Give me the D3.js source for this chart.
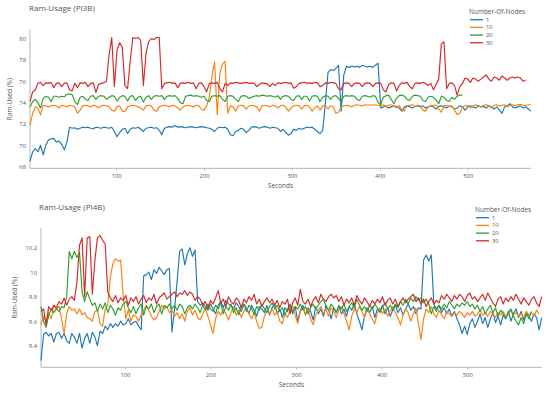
<!DOCTYPE html>
<html>
<head>
<meta charset="utf-8">
<script src="https://cdn.jsdelivr.net/npm/d3@7"></script>
<style>
  body { margin: 0; background: #fff; }
  svg { font-family: "Open Sans", verdana, arial, sans-serif; }
</style>
</head>
<body>
<div id="chart"></div>
<script>
// sampled every 3 seconds, first sample at 2 s
const startSec = 2;
const stepSec = 3;

const nodeCounts = ['1', '10', '20', '30'];
const xTicks = [100, 200, 300, 400, 500];

// PI3B
const pi3bYTicks = [68, 70, 72, 74, 76, 78, 80];
const pi3b_1 = [68.5,69.4,69.7,69.4,70.0,69.1,70.0,70.5,70.6,70.65,70.3,70.4,70.1,69.6,70.3,71.7,71.6,71.65,71.5,71.6,71.7,71.65,71.7,71.6,71.55,71.7,71.65,71.6,71.7,71.65,71.6,71.7,71.3,70.8,71.2,71.5,71.6,71.1,71.5,71.65,71.6,71.7,71.5,71.3,71.6,71.65,71.7,71.6,71.65,71.4,71.0,71.6,71.7,71.75,71.7,71.85,71.7,71.75,71.7,71.65,71.7,71.75,71.7,71.65,71.7,71.75,71.7,71.65,71.6,71.5,71.3,71.6,71.7,71.65,71.7,71.5,71.0,70.9,71.3,71.4,71.6,71.5,71.2,71.4,71.7,71.75,71.7,71.6,71.7,71.75,71.7,71.6,71.7,71.65,71.6,71.3,71.5,71.2,70.95,71.1,71.5,71.4,71.6,71.5,71.6,71.7,71.65,71.7,71.5,71.3,71.1,71.4,73.9,76.8,77.1,77.0,77.2,77.5,73.2,76.6,77.4,77.3,77.4,77.35,77.4,77.3,77.5,77.4,77.35,77.4,77.3,77.5,77.7,73.5,73.6,73.7,73.5,73.6,73.7,73.6,73.5,73.2,73.6,73.7,73.6,73.5,73.65,73.7,73.6,73.7,73.5,73.6,73.7,73.6,73.4,73.65,73.7,73.6,73.5,73.7,73.6,73.4,73.5,73.7,73.6,73.3,73.6,73.7,73.6,73.5,73.7,73.6,73.65,73.5,73.7,73.6,73.4,73.6,73.3,73.0,73.6,73.7,73.9,73.6,73.5,73.6,73.7,73.5,73.6,73.4,73.2];
const pi3b_10 = [71.9,73.0,73.6,73.5,72.85,73.75,73.7,73.6,73.7,73.75,73.7,73.5,73.75,73.7,73.6,73.75,73.7,73.6,73.0,73.3,73.7,73.75,73.7,73.6,73.75,73.7,73.5,73.7,73.75,73.7,73.6,73.3,73.2,73.6,73.7,73.2,73.15,73.6,73.7,73.75,73.7,73.6,73.5,73.3,73.7,73.75,73.7,73.3,73.2,73.6,73.7,73.75,73.7,73.6,73.75,73.7,73.5,73.3,73.6,73.7,73.75,73.7,73.6,73.75,73.7,73.4,73.3,73.7,74.5,76.5,77.85,72.9,76.8,77.6,77.85,73.0,73.7,73.6,73.2,73.7,73.75,73.7,73.4,73.7,73.75,73.7,73.6,73.2,73.7,73.75,73.7,73.6,73.75,73.7,73.5,73.7,73.75,73.6,73.2,73.5,73.7,73.75,73.7,73.4,73.7,73.75,73.6,73.2,73.5,73.7,73.3,73.7,73.75,73.4,73.7,73.6,73.0,73.1,73.6,73.7,73.75,73.7,73.6,73.75,73.8,73.75,73.7,73.8,73.75,73.8,73.75,73.8,73.75,73.7,73.8,73.6,73.75,73.8,73.7,73.5,73.75,73.3,73.2,73.7,73.75,73.8,73.6,73.75,73.7,73.3,73.2,73.6,73.75,73.7,73.8,73.4,73.1,73.7,73.75,73.6,73.7,73.3,72.9,73.0,73.6,73.7,73.75,73.5,73.7,73.8,73.7,73.6,73.75,73.8,73.7,73.5,73.75,73.8,73.7,73.75,73.8,73.6,73.75,73.8,73.7,73.8,73.85,73.75,73.7,73.8,73.8];
const pi3b_20 = [73.6,74.1,74.3,74.0,73.5,74.4,74.6,74.5,74.1,74.6,74.6,74.5,74.6,74.55,74.8,74.8,74.75,74.1,73.8,74.5,74.6,74.3,74.2,74.6,74.65,74.3,74.6,74.65,74.6,74.3,74.5,74.65,74.6,74.15,74.5,74.65,74.6,74.15,74.6,74.65,74.2,74.5,74.6,74.05,74.5,74.65,74.3,74.6,74.65,74.6,74.65,74.3,74.6,74.65,74.6,74.65,74.4,74.0,73.9,74.6,74.65,74.7,74.6,74.65,74.6,74.5,74.6,74.2,74.1,74.6,74.65,74.6,74.65,74.3,74.1,74.6,74.65,74.6,74.3,74.1,74.6,74.65,74.6,74.4,74.5,74.6,74.65,74.6,74.7,74.65,74.6,74.65,74.6,74.5,74.65,74.3,74.6,74.65,74.6,74.3,74.2,74.6,74.65,74.3,74.6,74.6,74.15,74.6,74.65,74.6,74.1,74.5,74.65,74.6,74.3,74.6,74.65,74.4,74.1,74.6,74.65,74.6,74.65,74.6,74.3,74.2,74.6,74.65,74.6,74.5,74.65,74.6,74.0,73.8,74.5,74.65,74.7,74.3,73.9,74.4,74.65,74.7,74.6,74.3,74.2,74.6,74.7,74.65,74.6,74.2,74.1,74.5,74.6,74.5,74.2,73.9,74.6,74.5,74.2,74.1,74.5,74.3,74.6,74.7,74.7];
const pi3b_30 = [74.1,75.0,75.2,75.8,75.9,75.6,75.85,75.8,75.9,75.4,75.8,75.85,75.5,75.8,75.85,75.2,75.1,75.8,75.4,75.85,75.8,75.9,75.5,75.8,75.85,74.95,75.7,75.8,75.85,76.0,78.5,80.1,75.5,78.9,79.6,79.2,75.6,75.3,77.9,80.1,80.0,80.1,79.8,75.6,78.6,79.7,80.0,79.9,80.1,80.1,75.3,75.8,75.85,75.9,75.8,75.85,75.4,75.8,75.85,75.8,75.9,75.8,75.85,75.3,75.8,75.85,75.5,75.0,75.8,75.85,75.8,75.9,75.3,75.0,75.8,75.6,75.85,75.8,75.9,75.85,75.8,75.85,75.9,75.8,75.85,75.8,75.5,75.7,75.85,75.8,75.75,75.5,75.8,75.6,75.85,75.8,75.85,75.9,75.8,75.85,75.35,75.5,75.8,75.85,75.9,75.8,75.85,75.8,75.9,75.85,75.5,75.6,75.85,75.8,75.9,75.85,75.8,75.3,75.2,75.8,75.85,75.8,75.5,75.8,75.85,75.8,75.5,75.8,75.85,75.8,75.5,75.8,75.85,75.8,75.2,75.0,75.7,75.85,75.8,75.1,75.6,75.85,75.8,75.9,75.5,75.3,75.8,75.85,75.8,75.9,75.8,75.6,75.8,75.2,75.7,76.2,79.5,79.7,75.3,75.8,75.85,75.6,74.7,75.5,75.8,76.3,76.2,75.9,76.3,76.2,76.0,76.2,76.4,76.6,76.2,76.0,76.4,76.3,76.1,76.5,76.3,76.1,76.3,76.4,76.3,76.4,76.3,76.0,76.1];

// PI4B
const pi4bYTicks = [9.4, 9.6, 9.8, 10, 10.2];
const pi4b_1 = [9.28,9.49,9.51,9.48,9.50,9.43,9.50,9.51,9.46,9.50,9.44,9.42,9.50,9.47,9.42,9.50,9.38,9.46,9.50,9.42,9.51,9.47,9.40,9.52,9.50,9.56,9.53,9.58,9.55,9.58,9.56,9.60,9.57,9.58,9.62,9.57,9.59,9.60,9.56,9.53,9.97,9.98,10.00,9.94,10.02,9.99,10.04,10.01,9.98,10.02,10.03,9.51,9.70,9.92,10.17,10.19,10.06,10.15,10.20,10.13,10.18,9.76,9.73,9.75,9.72,9.69,9.74,9.70,9.66,9.73,9.76,9.71,9.77,9.74,9.73,9.70,9.75,9.72,9.68,9.74,9.71,9.66,9.73,9.69,9.64,9.72,9.70,9.67,9.73,9.65,9.71,9.74,9.66,9.70,9.63,9.71,9.68,9.74,9.66,9.72,9.60,9.69,9.73,9.65,9.71,9.68,9.61,9.72,9.66,9.70,9.64,9.73,9.69,9.62,9.71,9.67,9.73,9.66,9.70,9.64,9.72,9.69,9.74,9.66,9.60,9.53,9.64,9.71,9.67,9.72,9.63,9.70,9.68,9.73,9.66,9.71,9.64,9.69,9.73,9.67,9.71,9.65,9.70,9.74,9.69,9.72,9.66,9.71,9.70,10.10,10.14,10.09,10.14,9.74,9.70,9.73,9.67,9.71,9.66,9.70,9.64,9.68,9.62,9.57,9.50,9.56,9.49,9.58,9.62,9.55,9.60,9.66,9.58,9.63,9.55,9.62,9.67,9.59,9.64,9.57,9.65,9.62,9.68,9.60,9.66,9.70,9.63,9.68,9.61,9.67,9.64,9.60,9.66,9.63,9.53,9.63];
const pi4b_10 = [9.57,9.64,9.60,9.67,9.62,9.73,9.70,9.72,9.62,9.50,9.66,9.72,9.69,9.70,9.66,9.70,9.65,9.67,9.63,9.62,9.60,9.68,9.69,9.58,9.56,9.70,9.73,9.96,10.07,10.11,10.09,10.10,9.81,9.62,9.69,9.60,9.65,9.64,9.60,9.65,9.69,9.73,9.69,9.64,9.61,9.63,9.68,9.73,9.70,9.72,9.67,9.69,9.64,9.67,9.62,9.66,9.60,9.68,9.71,9.65,9.69,9.63,9.61,9.66,9.70,9.64,9.57,9.50,9.62,9.68,9.65,9.70,9.66,9.61,9.67,9.72,9.65,9.69,9.63,9.68,9.71,9.66,9.62,9.67,9.60,9.54,9.55,9.64,9.69,9.66,9.70,9.65,9.68,9.60,9.58,9.66,9.63,9.69,9.72,9.65,9.58,9.68,9.71,9.66,9.70,9.62,9.57,9.65,9.69,9.72,9.66,9.70,9.64,9.71,9.68,9.63,9.69,9.72,9.66,9.60,9.53,9.64,9.70,9.67,9.72,9.68,9.63,9.70,9.66,9.62,9.58,9.67,9.71,9.66,9.70,9.64,9.68,9.72,9.67,9.63,9.57,9.65,9.70,9.67,9.60,9.66,9.71,9.58,9.45,9.62,9.70,9.67,9.72,9.66,9.63,9.69,9.65,9.62,9.68,9.66,9.64,9.67,9.65,9.68,9.66,9.63,9.67,9.65,9.68,9.64,9.66,9.69,9.65,9.67,9.64,9.68,9.66,9.63,9.67,9.65,9.68,9.64,9.66,9.69,9.65,9.67,9.64,9.66,9.63,9.68,9.65,9.67,9.64,9.69,9.66];
const pi4b_20 = [9.72,9.60,9.55,9.65,9.70,9.67,9.70,9.68,9.72,9.71,9.80,10.17,10.11,10.17,10.12,10.16,9.84,9.76,9.84,9.78,9.73,9.75,9.68,9.74,9.70,9.75,9.67,9.73,9.70,9.65,9.71,9.69,9.74,9.76,9.71,9.67,9.72,9.66,9.71,9.74,9.65,9.72,9.70,9.74,9.67,9.72,9.74,9.66,9.73,9.71,9.74,9.70,9.73,9.69,9.74,9.72,9.66,9.71,9.73,9.70,9.74,9.71,9.67,9.73,9.69,9.74,9.70,9.68,9.73,9.70,9.75,9.66,9.72,9.69,9.74,9.67,9.71,9.65,9.72,9.74,9.68,9.73,9.70,9.66,9.72,9.69,9.74,9.70,9.67,9.72,9.75,9.70,9.73,9.68,9.71,9.65,9.70,9.73,9.68,9.72,9.70,9.74,9.69,9.72,9.66,9.71,9.74,9.70,9.73,9.76,9.78,9.72,9.69,9.74,9.71,9.67,9.72,9.70,9.74,9.68,9.72,9.75,9.71,9.78,9.73,9.69,9.72,9.68,9.73,9.70,9.74,9.71,9.67,9.72,9.75,9.70,9.73,9.69,9.74,9.71,9.76,9.73,9.78,9.74,9.79,9.76,9.80,9.77,9.79,9.75,9.78,9.74,9.66,9.72,9.68,9.73,9.70,9.74,9.71,9.76,9.73,9.70,9.74,9.72,9.75,9.73,9.76,9.72,9.74,9.70,9.73,9.68,9.72,9.66,9.70,9.73,9.67,9.71,9.64,9.69,9.66,9.62,9.67,9.70,9.64,9.60,9.57,9.63,9.58,9.66,9.62,9.68];
const pi4b_30 = [9.68,9.70,9.57,9.72,9.69,9.73,9.71,9.76,9.74,9.79,9.73,9.78,9.80,9.77,9.92,10.22,10.28,9.80,10.28,10.29,9.82,10.10,10.28,10.30,10.26,10.23,9.84,9.79,9.76,9.81,9.75,9.79,9.77,9.81,9.73,9.79,9.76,9.80,9.74,9.78,9.81,9.75,9.79,9.77,9.82,9.74,9.79,9.81,9.83,9.78,9.80,9.82,9.84,9.80,9.83,9.82,9.85,9.81,9.84,9.82,9.77,9.80,9.78,9.73,9.76,9.70,9.77,9.74,9.79,9.85,9.75,9.78,9.72,9.80,9.76,9.74,9.79,9.77,9.71,9.78,9.75,9.80,9.77,9.82,9.74,9.78,9.72,9.76,9.79,9.75,9.78,9.73,9.77,9.71,9.76,9.74,9.78,9.66,9.75,9.79,9.73,9.86,9.76,9.74,9.78,9.72,9.77,9.80,9.75,9.82,9.78,9.76,9.80,9.82,9.79,9.81,9.76,9.80,9.73,9.78,9.75,9.79,9.73,9.81,9.77,9.74,9.79,9.76,9.72,9.77,9.74,9.78,9.75,9.80,9.73,9.77,9.79,9.74,9.78,9.72,9.76,9.79,9.75,9.78,9.80,9.82,9.76,9.79,9.74,9.78,9.72,9.76,9.79,9.74,9.77,9.75,9.81,9.78,9.82,9.79,9.76,9.81,9.78,9.82,9.80,9.76,9.81,9.83,9.78,9.80,9.76,9.79,9.82,9.77,9.83,9.79,9.75,9.72,9.78,9.80,9.74,9.79,9.76,9.80,9.77,9.82,9.78,9.74,9.79,9.76,9.73,9.78,9.80,9.75,9.72,9.80];

const colors = ['#1f77b4', '#ff7f0e', '#2ca02c', '#d62728'];
const textColor = '#555';
const axisColor = '#b5b5b5';

const width = 550;
const height = 394;

const svg = d3.select('#chart')
  .append('svg')
  .attr('width', width)
  .attr('height', height);

const panels = [
  {
    title: 'Ram-Usage (PI3B)',
    series: [pi3b_1, pi3b_10, pi3b_20, pi3b_30],
    yTicks: pi3bYTicks,
    xDomain: [2, 572], yDomain: [67.85, 80.8],
    left: 30, right: 531, top: 30, bottom: 168.3,
    titleX: 29, titleY: 11,
    yTitleX: 10, xTitleY: 188,
    legendX: 469, legendY: 12
  },
  {
    title: 'Ram-Usage (PI4B)',
    series: [pi4b_1, pi4b_10, pi4b_20, pi4b_30],
    yTicks: pi4bYTicks,
    xDomain: [2, 587], yDomain: [9.224, 10.358],
    left: 41, right: 541.7, top: 228.3, bottom: 367.3,
    titleX: 39, titleY: 210,
    yTitleX: 15, xTitleY: 387,
    legendX: 475, legendY: 210
  }
];

panels.forEach(p => {
  const x = d3.scaleLinear().domain(p.xDomain).range([p.left, p.right]);
  const y = d3.scaleLinear().domain(p.yDomain).range([p.bottom, p.top]);

  const g = svg.append('g');

  // axes
  const xAxis = g.append('g')
    .attr('transform', `translate(0,${p.bottom})`)
    .call(d3.axisBottom(x).tickValues(xTicks).tickSize(2).tickPadding(4).tickFormat(d3.format('d')));
  const yAxis = g.append('g')
    .attr('transform', `translate(${p.left},0)`)
    .call(d3.axisLeft(y).tickValues(p.yTicks).tickSize(0).tickPadding(4).tickFormat(d => String(d)));

  [xAxis, yAxis].forEach(a => {
    a.select('.domain').attr('stroke', axisColor).attr('stroke-width', 1);
    a.selectAll('.tick line').attr('stroke', axisColor);
    a.selectAll('.tick text')
      .attr('fill', textColor)
      .style('font-size', '5.8px')
      .style('font-family', '"Open Sans", verdana, arial, sans-serif');
  });
  // plotly style: plain axis lines without outer ticks
  xAxis.select('.domain').attr('d', `M${p.left},0H${p.right}`);
  yAxis.select('.domain').attr('d', `M0,${p.top}V${p.bottom}`);

  // lines
  const line = d3.line()
    .x((d, i) => x(startSec + i * stepSec))
    .y(d => y(d));

  p.series.forEach((s, k) => {
    g.append('path')
      .datum(s)
      .attr('fill', 'none')
      .attr('stroke', colors[k])
      .attr('stroke-width', 1.15)
      .attr('stroke-linejoin', 'round')
      .attr('d', line);
  });

  // titles
  g.append('text')
    .attr('x', p.titleX).attr('y', p.titleY)
    .attr('fill', textColor)
    .style('font-size', '8px')
    .text(p.title);

  g.append('text')
    .attr('x', (p.left + p.right) / 2).attr('y', p.xTitleY)
    .attr('text-anchor', 'middle')
    .attr('fill', textColor)
    .style('font-size', '6.5px')
    .text('Seconds');

  g.append('text')
    .attr('transform', `translate(${p.yTitleX},${(p.top + p.bottom) / 2}) rotate(-90)`)
    .attr('text-anchor', 'middle')
    .attr('dy', '0.35em')
    .attr('fill', textColor)
    .style('font-size', '6.5px')
    .text('Ram-Used (%)');

  // legend
  const lg = g.append('g').attr('transform', `translate(${p.legendX},${p.legendY})`);
  lg.append('text')
    .attr('x', 0).attr('y', 0).attr('dy', '0.35em')
    .attr('fill', textColor)
    .style('font-size', '6.5px')
    .text('Number-Of-Nodes');

  nodeCounts.forEach((n, k) => {
    const row = lg.append('g').attr('transform', `translate(0,${7.7 * (k + 1)})`);
    row.append('line')
      .attr('x1', 1).attr('x2', 14)
      .attr('stroke', colors[k])
      .attr('stroke-width', 1.3);
    row.append('text')
      .attr('x', 17).attr('dy', '0.35em')
      .attr('fill', textColor)
      .style('font-size', '5.8px')
      .text(n);
  });
});
</script>
</body>
</html>
